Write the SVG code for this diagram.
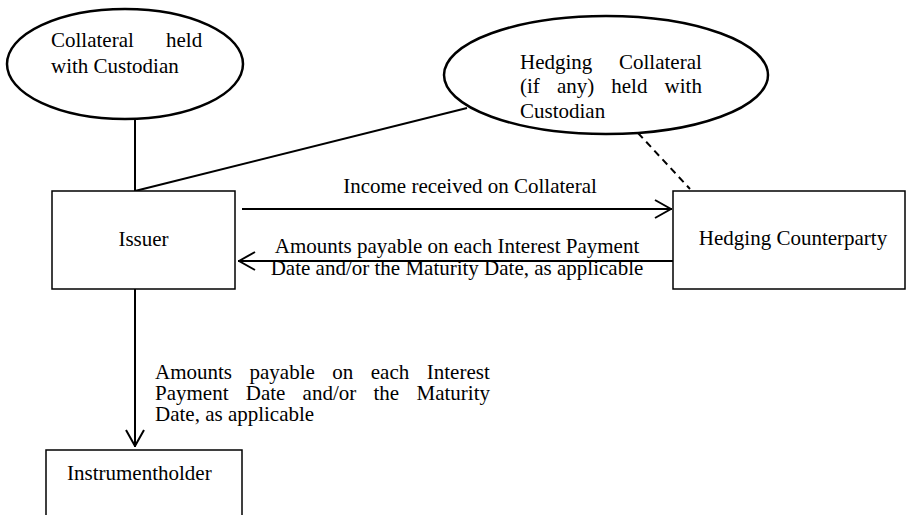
<svg xmlns="http://www.w3.org/2000/svg" width="906" height="515" viewBox="0 0 906 515">
<style>
text{font-family:"Liberation Serif","Times New Roman",serif;font-size:21px;fill:#000}
.ell{fill:#fff;stroke:#000;stroke-width:2.5}
.box{fill:#fff;stroke:#000;stroke-width:1.5}
.ln{fill:none;stroke:#000;stroke-width:2}
.dash{fill:none;stroke:#000;stroke-width:2;stroke-dasharray:7 5}
.mid{text-anchor:middle}
</style>
<defs>
<marker id="arr" viewBox="0 0 18 20" refX="18" refY="10" markerWidth="18" markerHeight="20" markerUnits="userSpaceOnUse" orient="auto">
<path d="M1,1 L17,10 L1,19" fill="none" stroke="#000" stroke-width="2"/>
</marker>
</defs>
<g id="connectors">
<line class="ln" x1="135" y1="118" x2="135" y2="191"/>
<line class="ln" x1="135" y1="191" x2="467" y2="108"/>
<line class="dash" x1="638" y1="133" x2="690" y2="189"/>
<line class="ln" x1="242" y1="209" x2="672" y2="209" marker-end="url(#arr)"/>
<line class="ln" x1="673" y1="261" x2="238" y2="261" marker-end="url(#arr)"/>
<line class="ln" x1="135" y1="289" x2="135" y2="447" stroke-width="2.5" marker-end="url(#arr)"/>
<text class="mid" x="470" y="193">Income received on Collateral</text>
<text class="mid" x="457" y="253">Amounts payable on each Interest Payment</text>
<text class="mid" x="457" y="275">Date and/or the Maturity Date, as applicable</text>
<text y="379"><tspan x="155">Amounts</tspan><tspan x="249.5">payable</tspan><tspan x="332.3">on</tspan><tspan x="370.8">each</tspan><tspan x="426.8">Interest</tspan></text>
<text y="400"><tspan x="155">Payment</tspan><tspan x="245.8">Date</tspan><tspan x="302.6">and/or</tspan><tspan x="373.5">the</tspan><tspan x="416.5">Maturity</tspan></text>
<text x="155" y="421">Date, as applicable</text>
</g>
<g id="collateral">
<ellipse class="ell" cx="125" cy="64" rx="118" ry="55"/>
<text y="47"><tspan x="51">Collateral</tspan><tspan x="166">held</tspan></text>
<text x="51" y="73">with Custodian</text>
</g>
<g id="hedging-collateral">
<ellipse class="ell" cx="606" cy="75" rx="162" ry="59"/>
<text y="69"><tspan x="520">Hedging</tspan><tspan x="619">Collateral</tspan></text>
<text y="93"><tspan x="520">(if</tspan><tspan x="556.9">any)</tspan><tspan x="611.3">held</tspan><tspan x="664.6">with</tspan></text>
<text x="520" y="118">Custodian</text>
</g>
<g id="issuer">
<rect class="box" x="52" y="191" width="183" height="98"/>
<text class="mid" x="143.5" y="246">Issuer</text>
</g>
<g id="hedging-counterparty">
<rect class="box" x="673" y="191" width="232" height="98"/>
<text class="mid" x="793" y="245">Hedging Counterparty</text>
</g>
<g id="instrumentholder">
<rect class="box" x="46" y="450" width="196" height="80"/>
<text x="67" y="480">Instrumentholder</text>
</g>
</svg>
